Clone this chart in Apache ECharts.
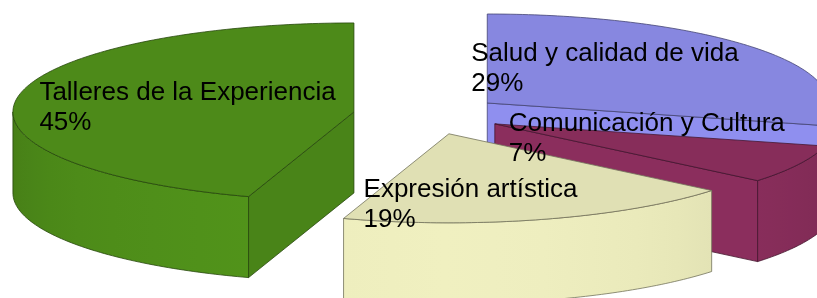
<!DOCTYPE html>
<html>
<head>
<meta charset="utf-8">
<script src="https://cdn.jsdelivr.net/npm/echarts@6/dist/echarts.min.js"></script>
<style>
  html, body { margin: 0; padding: 0; background: #fff; }
  #chart { width: 817px; height: 298px; }
</style>
</head>
<body>
<div id="chart"></div>
<script>
// data, clockwise from 12 o'clock
const categories = ['Salud y calidad de vida', 'Comunicación y Cultura', 'Expresión artística', 'Talleres de la Experiencia'];
const values = [29, 7, 19, 45];
const colors = ['#9999ff', '#993366', '#ffffcc', '#579d1c'];

// 3d pie look
const cx = 428, cy = 115;
const rx = 341, ry = 89;
const thick = 81;
const explode = 75;
const startAngle = 90;
const labelFont = '26px "Liberation Sans", Arial, sans-serif';
// nudges for the label blocks (px), same order as categories
const labelShift = [[-17, -7], [0, -5], [-26, 28], [2, 3]];

const total = values.reduce((a, b) => a + b, 0);
const rad = d => d * Math.PI / 180;

function shade(hex, k) {
  const n = parseInt(hex.slice(1), 16);
  const c = [n >> 16, (n >> 8) & 255, n & 255].map(v => Math.max(0, Math.min(255, Math.round(v * k))));
  return 'rgb(' + c.join(',') + ')';
}
// simple light, faces turned to the viewer are brighter
function light(normalDeg) {
  return 0.80 + 0.14 * Math.max(0, -Math.sin(rad(normalDeg)));
}

let acc = startAngle;
const slices = values.map(v => {
  const sweep = v / total * 360;
  const hi = acc, lo = acc - sweep;
  acc = lo;
  const mid = (hi + lo) / 2;
  return {
    lo, hi, mid,
    ox: cx + Math.cos(rad(mid)) * explode,
    oy: cy - Math.sin(rad(mid)) * explode * ry / rx
  };
});

function pt(s, a, r, dy) {
  return [s.ox + Math.cos(rad(a)) * rx * r, s.oy - Math.sin(rad(a)) * ry * r + dy];
}
function arc(s, a, b, dy) {
  const pts = [];
  const n = Math.max(2, Math.ceil(Math.abs(b - a)));
  for (let k = 0; k <= n; k++) pts.push(pt(s, a + (b - a) * k / n, 1, dy));
  return pts;
}

const measure = document.createElement('canvas').getContext('2d');
measure.font = labelFont;

function renderItem(params, api) {
  const i = params.dataIndex;
  const s = slices[i];
  const base = colors[i];
  const edge = shade(base, 0.45);
  const z = Math.round((1 - Math.sin(rad(s.mid))) * 100);
  const children = [];

  // outer wall, only the part facing the viewer
  for (let k = -1; k <= 1; k++) {
    const a = Math.max(s.lo, -180 + 360 * k), b = Math.min(s.hi, 360 * k);
    if (b - a < 0.01) continue;
    const top = arc(s, a, b, 0);
    const bottom = arc(s, b, a, thick);
    const xs = top.map(p => p[0]);
    const x0 = Math.min(...xs), x1 = Math.max(...xs);
    const stops = [];
    for (let j = 0; j <= 8; j++) {
      const t = a + (b - a) * j / 8;
      const x = pt(s, t, 1, 0)[0];
      stops.push({ offset: (x - x0) / (x1 - x0 || 1), color: shade(base, light(t)) });
    }
    stops.sort((p, q) => p.offset - q.offset);
    children.push({
      type: 'polygon', z2: z,
      shape: { points: top.concat(bottom) },
      style: { fill: new echarts.graphic.LinearGradient(0, 0, 1, 0, stops), stroke: edge, lineWidth: 0.8 }
    });
  }

  // radial cut faces
  [[s.hi, s.hi + 90], [s.lo, s.lo - 90]].forEach(([a, nrm]) => {
    if (Math.sin(rad(nrm)) > -1e-3) return;
    const c0 = pt(s, a, 0, 0), r0 = pt(s, a, 1, 0);
    children.push({
      type: 'polygon', z2: z,
      shape: { points: [c0, r0, [r0[0], r0[1] + thick], [c0[0], c0[1] + thick]] },
      style: { fill: shade(base, light(nrm)), stroke: edge, lineWidth: 0.8 }
    });
  });

  // top face
  children.push({
    type: 'polygon', z2: z + 1,
    shape: { points: [pt(s, 0, 0, 0)].concat(arc(s, s.hi, s.lo, 0)) },
    style: { fill: shade(base, 0.88), stroke: edge, lineWidth: 0.8 }
  });

  // label: name + percent, block centred half way out on the bisector
  const pct = Math.round(api.value(0) / total * 100) + '%';
  const text = categories[i] + '\n' + pct;
  const w = Math.max(measure.measureText(categories[i]).width, measure.measureText(pct).width);
  const anchor = pt(s, s.mid, 0.5, 0);
  children.push({
    type: 'text', z2: 1000,
    style: {
      text,
      x: anchor[0] - w / 2 + labelShift[i][0],
      y: anchor[1] + labelShift[i][1],
      font: labelFont, fill: '#000', align: 'left', verticalAlign: 'middle', lineHeight: 30
    }
  });

  return { type: 'group', children };
}

const chart = echarts.init(document.getElementById('chart'));
chart.setOption({
  animation: false,
  series: [{
    type: 'custom',
    coordinateSystem: 'none',
    silent: true,
    data: values.map((v, i) => ({ name: categories[i], value: [v] })),
    renderItem
  }]
});
</script>
</body>
</html>
